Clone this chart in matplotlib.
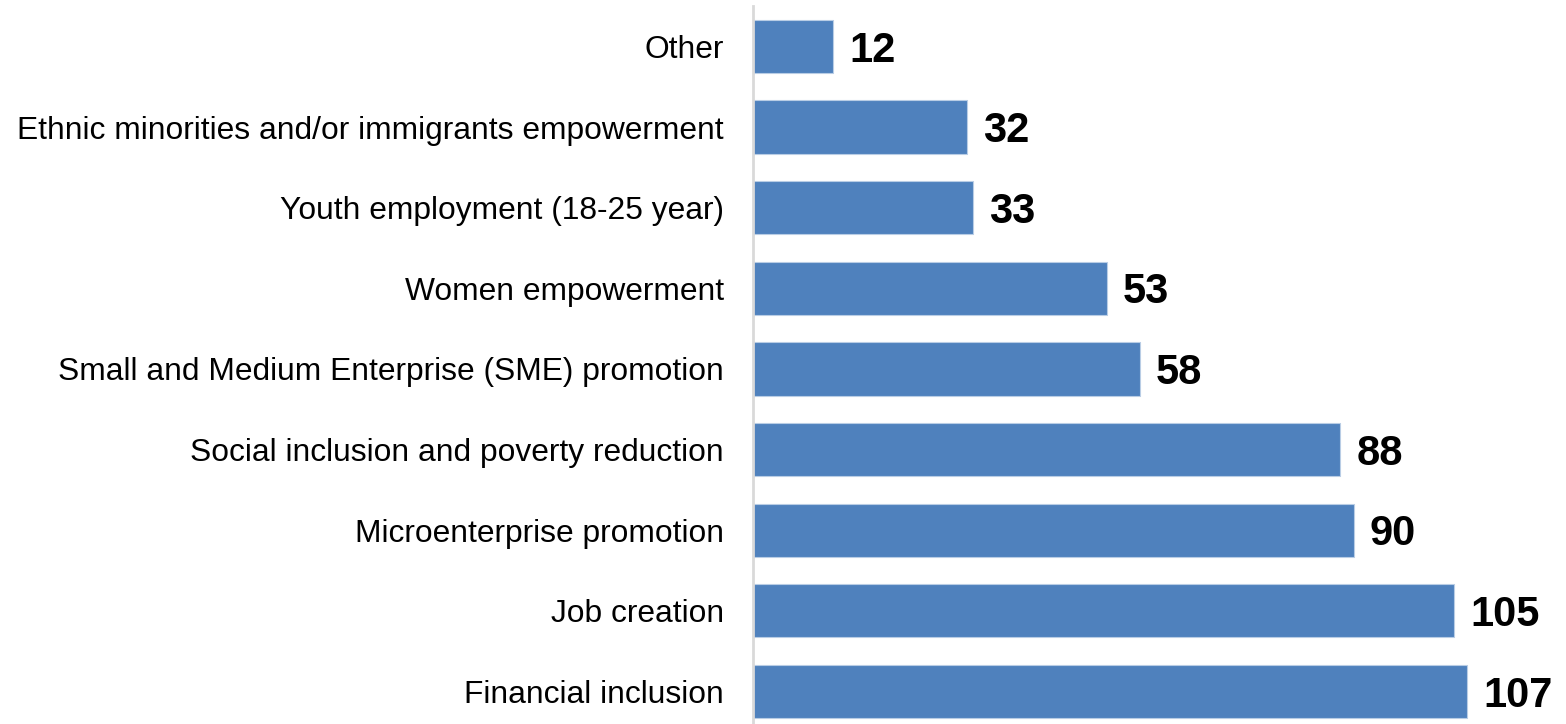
import matplotlib.pyplot as plt

# categories, bottom to top
categories = [
    "Financial inclusion",
    "Job creation",
    "Microenterprise promotion",
    "Social inclusion and poverty reduction",
    "Small and Medium Enterprise (SME) promotion",
    "Women empowerment",
    "Youth employment (18-25 year)",
    "Ethnic minorities and/or immigrants empowerment",
    "Other",
]
counts = [107, 105, 90, 88, 58, 53, 33, 32, 12]

plt.rcParams['font.family'] = ['Liberation Sans', 'DejaVu Sans']

fig = plt.figure(figsize=(15.66, 7.24), dpi=100)
ax = fig.add_axes([753 / 1566, 0.0, 1 - 753 / 1566, 1 - 6 / 724])

ypos = list(range(len(categories)))
bars = ax.barh(ypos, counts, height=0.66, color="#4F81BD",
               edgecolor="#B9CDE5", linewidth=0.8)

# value labels to the right of each bar
for y, v in zip(ypos, counts):
    ax.text(v + 2.4, y - 0.05, str(v), va="center", ha="left",
            fontsize=30, fontweight="bold", color="black")

ax.set_yticks(ypos)
ax.set_yticklabels(categories, fontsize=22.9)
ax.tick_params(axis="y", length=0, pad=21)
ax.set_xticks([])
ax.set_xlim(0, 121.8)
ax.set_ylim(-0.403, 8.502)

for side in ["top", "right", "bottom"]:
    ax.spines[side].set_visible(False)
ax.spines["left"].set_color("#D9D9D9")
ax.spines["left"].set_linewidth(2)

fig.savefig("out.png", dpi=100)
